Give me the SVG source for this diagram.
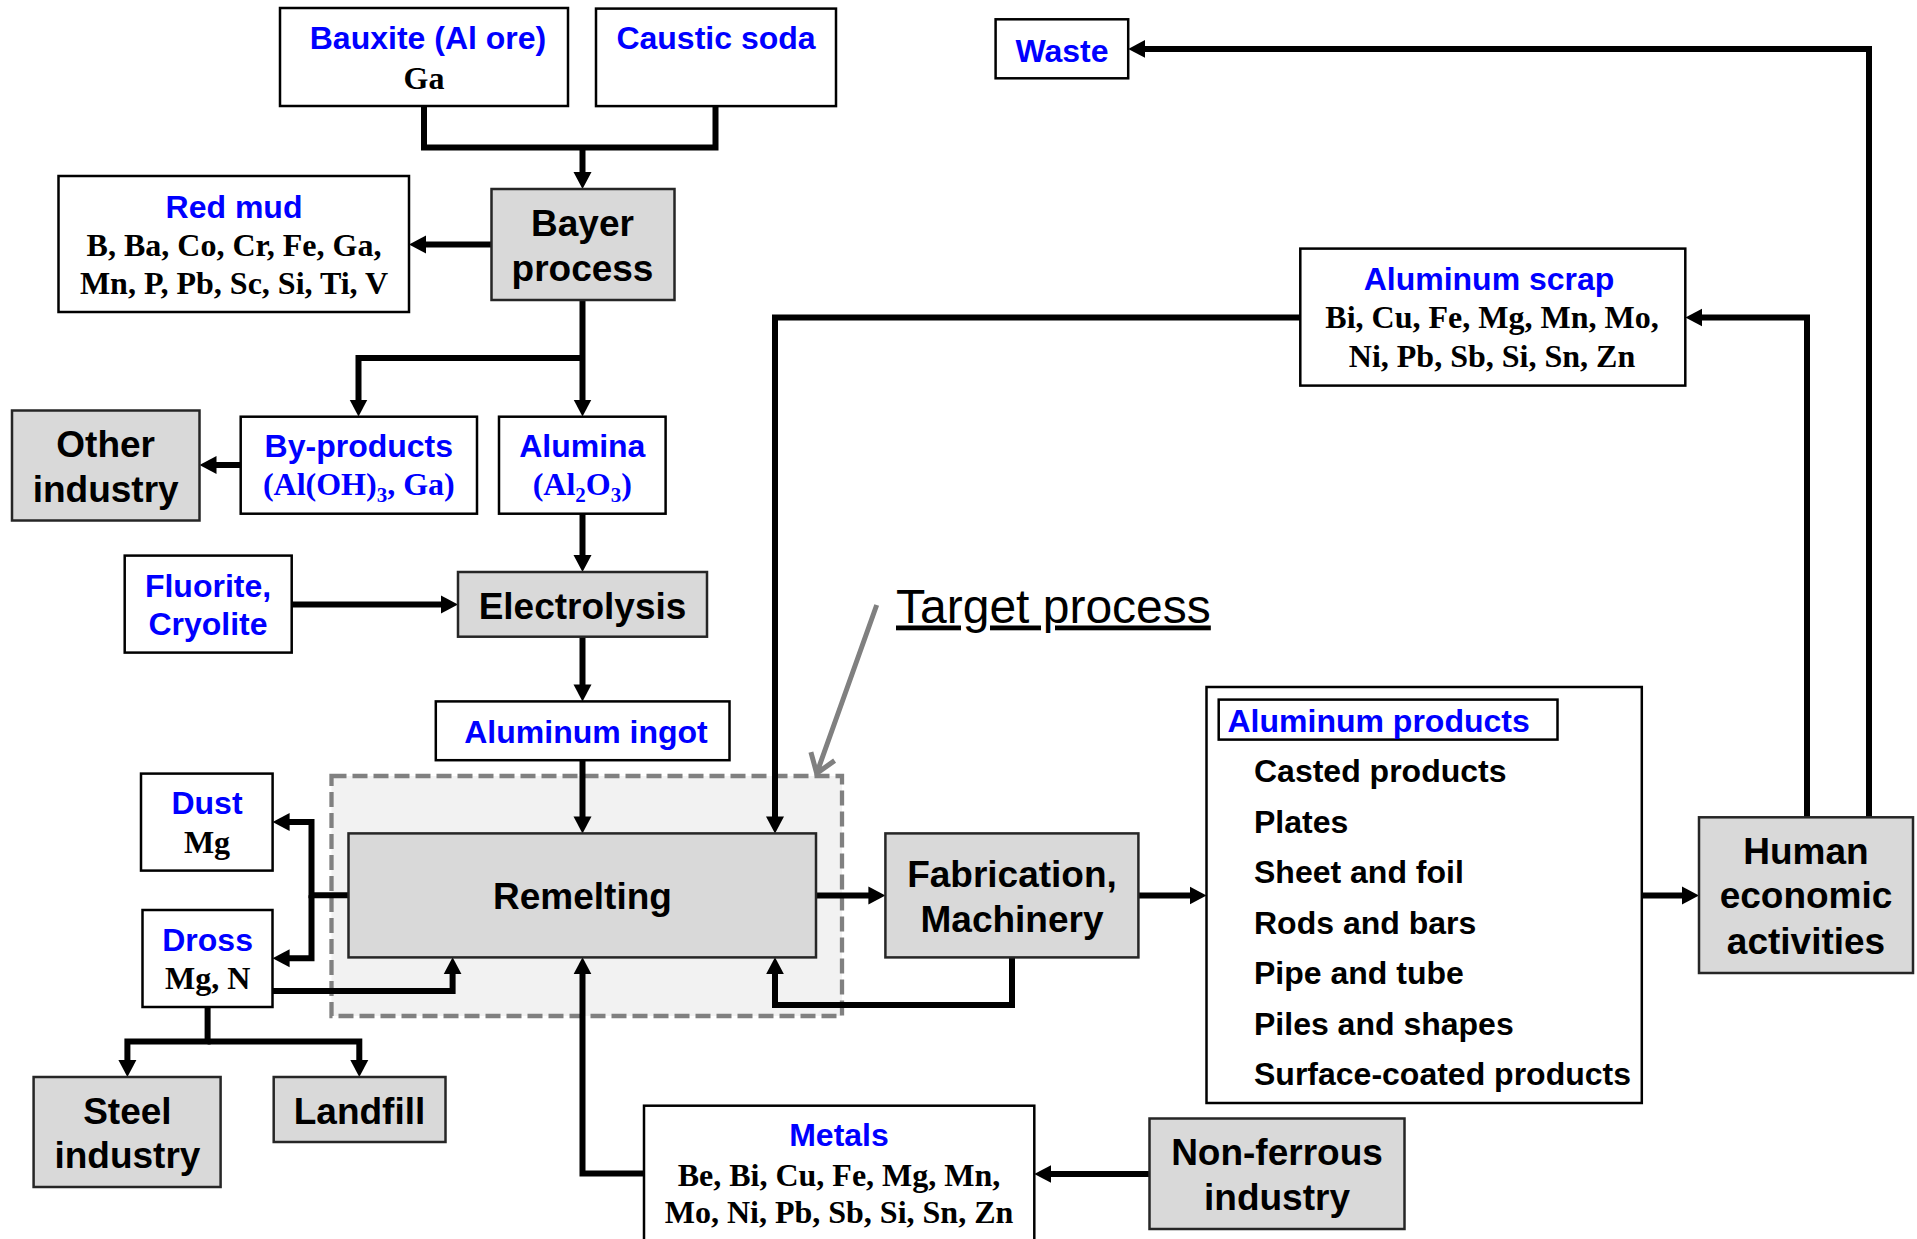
<svg xmlns="http://www.w3.org/2000/svg" width="1917" height="1239" viewBox="0 0 1917 1239">
<defs>
<marker id="ah" markerUnits="userSpaceOnUse" markerWidth="20" markerHeight="20" viewBox="0 -10 20 20" refX="1" refY="0" orient="auto">
<path d="M0,-9 L17,0 L0,9 z" fill="#000"/>
</marker>
</defs>
<style>
.wb{fill:#fff;stroke:#000;stroke-width:2.5}
.gb{fill:#d9d9d9;stroke:#262626;stroke-width:2.5}
.ti{font-family:"Liberation Sans",Arial,sans-serif;font-weight:bold;font-size:32px;fill:#0000ff;text-anchor:middle}
.el{font-family:"Liberation Serif","Times New Roman",serif;font-weight:bold;font-size:32px;fill:#000;text-anchor:middle}
.elb{font-family:"Liberation Serif","Times New Roman",serif;font-weight:bold;font-size:32px;fill:#0000ff;text-anchor:middle}
.pl{font-family:"Liberation Sans",Arial,sans-serif;font-weight:bold;font-size:37px;fill:#000;text-anchor:middle}
.it{font-family:"Liberation Sans",Arial,sans-serif;font-weight:bold;font-size:32px;fill:#000}
.cn{fill:none;stroke:#000;stroke-width:6;stroke-linejoin:miter}
.ar{marker-end:url(#ah)}
</style>
<rect width="1917" height="1239" fill="#fff"/>

<g id="target-region">
<rect x="331.5" y="776" width="510.5" height="240" fill="#f2f2f2" stroke="#808080" stroke-width="4.3" stroke-dasharray="15 6"/>
<text x="896" y="622.5" font-family="Liberation Sans, Arial, sans-serif" font-size="48" fill="#000" text-decoration="underline">Target process</text>
<path d="M876.7,605 L816.7,773.3 M810.9,752.1 L816.7,773.3 L834.6,760.6" fill="none" stroke="#808080" stroke-width="5"/>
</g>

<g id="connectors">
<path class="cn" d="M424,106 V147.5 H715.5 V106"/>
<path class="cn ar" d="M582.5,147.5 V173"/>
<path class="cn ar" d="M491.5,244.5 H425"/>
<path class="cn ar" d="M582.5,300 V400.5"/>
<path class="cn ar" d="M582.5,358 H358.5 V400.5"/>
<path class="cn ar" d="M240.7,465 H215.5"/>
<path class="cn ar" d="M582.5,514 V556"/>
<path class="cn ar" d="M291.6,604.6 H442"/>
<path class="cn ar" d="M582.5,636.7 V685.4"/>
<path class="cn ar" d="M582.5,760 V817.4"/>
<path class="cn ar" d="M348.5,895.3 H311.5 V822 H288.6"/>
<path class="cn ar" d="M311.5,895.3 V958.2 H288.6"/>
<path class="cn ar" d="M272.6,991 H452.6 V973.3"/>
<path class="cn ar" d="M207.6,1007 V1041.6 H127.4 V1061"/>
<path class="cn ar" d="M207.6,1041.6 H359.3 V1061"/>
<path class="cn ar" d="M644,1173.5 H582.5 V973.3"/>
<path class="cn ar" d="M1012,957.3 V1005 H775 V973.3"/>
<path class="cn ar" d="M816,895.5 H869.4"/>
<path class="cn ar" d="M1138.4,895.5 H1190.5"/>
<path class="cn ar" d="M1641.8,895.5 H1683"/>
<path class="cn ar" d="M1869,817.3 V48.9 H1144.2"/>
<path class="cn ar" d="M1807,817.3 V317.5 H1701.4"/>
<path class="cn ar" d="M1300.3,317.5 H775 V817.4"/>
<path class="cn ar" d="M1149.5,1174 H1050.3"/>
</g>

<g id="bauxite">
<rect class="wb" x="280" y="8" width="288" height="98"/>
<text class="ti" x="428" y="48.5">Bauxite (Al ore)</text>
<text class="el" x="424" y="88.5">Ga</text>
</g>
<g id="caustic-soda">
<rect class="wb" x="596" y="8.6" width="240" height="97.5"/>
<text class="ti" x="716" y="48.5">Caustic soda</text>
</g>
<g id="bayer-process">
<rect class="gb" x="491.5" y="189" width="183" height="111"/>
<text class="pl" x="582.5" y="236">Bayer</text>
<text class="pl" x="582.5" y="280.5">process</text>
</g>
<g id="red-mud">
<rect class="wb" x="58.5" y="176" width="350.5" height="136"/>
<text class="ti" x="234" y="218">Red mud</text>
<text class="el" x="234" y="256">B, Ba, Co, Cr, Fe, Ga,</text>
<text class="el" x="234" y="294">Mn, P, Pb, Sc, Si, Ti, V</text>
</g>
<g id="other-industry">
<rect class="gb" x="12" y="410.5" width="187.5" height="110"/>
<text class="pl" x="105.7" y="457">Other</text>
<text class="pl" x="105.7" y="501.5">industry</text>
</g>
<g id="by-products">
<rect class="wb" x="240.7" y="416.7" width="236.3" height="97"/>
<text class="ti" x="358.8" y="457">By-products</text>
<text class="elb" x="358.8" y="495">(Al(OH)<tspan font-size="21" dy="7">3</tspan><tspan dy="-7">, Ga)</tspan></text>
</g>
<g id="alumina">
<rect class="wb" x="499" y="416.7" width="166.6" height="97"/>
<text class="ti" x="582.3" y="457">Alumina</text>
<text class="elb" x="582.3" y="495">(Al<tspan font-size="21" dy="7">2</tspan><tspan dy="-7">O</tspan><tspan font-size="21" dy="7">3</tspan><tspan dy="-7">)</tspan></text>
</g>
<g id="fluorite-cryolite">
<rect class="wb" x="124.7" y="555.6" width="167" height="97"/>
<text class="ti" x="208" y="596.5">Fluorite,</text>
<text class="ti" x="208" y="634.5">Cryolite</text>
</g>
<g id="electrolysis">
<rect class="gb" x="458" y="572" width="249" height="64.7"/>
<text class="pl" x="582.5" y="618.5">Electrolysis</text>
</g>
<g id="aluminum-ingot">
<rect class="wb" x="435.8" y="701.4" width="293.7" height="58.8"/>
<text class="ti" x="586" y="743">Aluminum ingot</text>
</g>
<g id="remelting">
<rect class="gb" x="348.5" y="833.4" width="467.5" height="124"/>
<text class="pl" x="582.5" y="908.5">Remelting</text>
</g>
<g id="dust">
<rect class="wb" x="141" y="773.6" width="131.6" height="97"/>
<text class="ti" x="207" y="814">Dust</text>
<text class="el" x="207" y="853">Mg</text>
</g>
<g id="dross">
<rect class="wb" x="142.5" y="910" width="130" height="97"/>
<text class="ti" x="207.6" y="951">Dross</text>
<text class="el" x="207.6" y="989">Mg, N</text>
</g>
<g id="steel-industry">
<rect class="gb" x="33.6" y="1077" width="187" height="110"/>
<text class="pl" x="127.4" y="1123.5">Steel</text>
<text class="pl" x="127.4" y="1167.5">industry</text>
</g>
<g id="landfill">
<rect class="gb" x="273.7" y="1077" width="171.8" height="65"/>
<text class="pl" x="359.5" y="1123.5">Landfill</text>
</g>
<g id="metals">
<rect class="wb" x="644" y="1105.7" width="390.3" height="145"/>
<text class="ti" x="839" y="1146">Metals</text>
<text class="el" x="839" y="1186">Be, Bi, Cu, Fe, Mg, Mn,</text>
<text class="el" x="839" y="1223">Mo, Ni, Pb, Sb, Si, Sn, Zn</text>
</g>
<g id="fabrication">
<rect class="gb" x="885.4" y="833.4" width="253" height="124"/>
<text class="pl" x="1012" y="887">Fabrication,</text>
<text class="pl" x="1012" y="931.5">Machinery</text>
</g>
<g id="aluminum-products">
<rect class="wb" x="1206.5" y="687" width="435.3" height="416"/>
<rect class="wb" x="1218.7" y="699.6" width="338.8" height="40"/>
<text class="ti" x="1227.5" y="731.5" style="text-anchor:start">Aluminum products</text>
<text class="it" x="1254" y="781.5">Casted products</text>
<text class="it" x="1254" y="832.5">Plates</text>
<text class="it" x="1254" y="883">Sheet and foil</text>
<text class="it" x="1254" y="933.5">Rods and bars</text>
<text class="it" x="1254" y="984">Pipe and tube</text>
<text class="it" x="1254" y="1034.5">Piles and shapes</text>
<text class="it" x="1254" y="1085">Surface-coated products</text>
</g>
<g id="human-economic-activities">
<rect class="gb" x="1699" y="817.3" width="214" height="155.7"/>
<text class="pl" x="1806" y="864">Human</text>
<text class="pl" x="1806" y="908">economic</text>
<text class="pl" x="1806" y="953.5">activities</text>
</g>
<g id="waste">
<rect class="wb" x="995.6" y="19.3" width="132.6" height="59"/>
<text class="ti" x="1062" y="61.8">Waste</text>
</g>
<g id="aluminum-scrap">
<rect class="wb" x="1300.3" y="248.6" width="385" height="137"/>
<text class="ti" x="1489" y="289.5">Aluminum scrap</text>
<text class="el" x="1492" y="328">Bi, Cu, Fe, Mg, Mn, Mo,</text>
<text class="el" x="1492" y="366.5">Ni, Pb, Sb, Si, Sn, Zn</text>
</g>
<g id="non-ferrous-industry">
<rect class="gb" x="1149.5" y="1118.5" width="255" height="110.5"/>
<text class="pl" x="1277" y="1164.5">Non-ferrous</text>
<text class="pl" x="1277" y="1210">industry</text>
</g>
</svg>
